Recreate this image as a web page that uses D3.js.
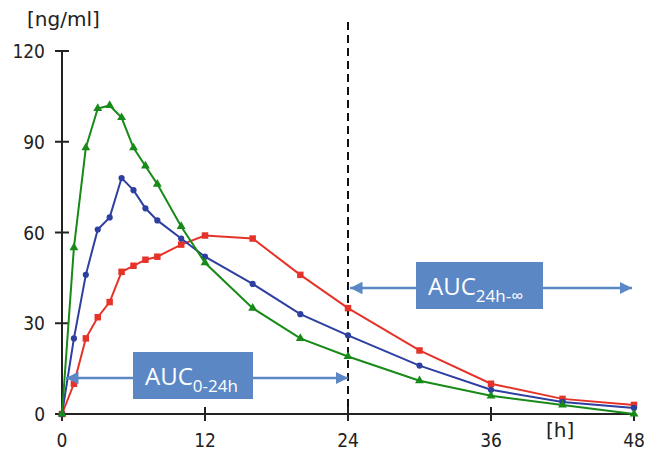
<!DOCTYPE html>
<html>
<head>
<meta charset="utf-8">
<script src="https://cdn.jsdelivr.net/npm/d3@7.9.0/dist/d3.min.js"></script>
<style>
  body { margin: 0; background: #fff; }
  svg { display: block; }
  .tick-label { font-family: "DejaVu Sans Condensed", "DejaVu Sans", Verdana, sans-serif; font-size: 19px; fill: #222; }
  .unit-label { font-family: "DejaVu Sans", Verdana, sans-serif; font-size: 20px; fill: #222; }
  .auc { font-family: "Open Sans", "Noto Sans", sans-serif; fill: #fff; }
</style>
</head>
<body>
<svg width="655" height="453"></svg>
<script>
// time points in hours
const hours = [0, 1, 2, 3, 4, 5, 6, 7, 8, 10, 12, 16, 20, 24, 30, 36, 42, 48];
// concentrations [ng/ml]
const greenSeries = [0, 55, 88, 101, 102, 98, 88, 82, 76, 62, 50, 35, 25, 19, 11, 6, 3, 0];
const blueSeries = [0, 25, 46, 61, 65, 78, 74, 68, 64, 58, 52, 43, 33, 26, 16, 8, 4, 2];
const redSeries = [0, 10, 25, 32, 37, 47, 49, 51, 52, 56, 59, 58, 46, 35, 21, 10, 5, 3];
const xTicks = [0, 12, 24, 36, 48];
const yTicks = [0, 30, 60, 90, 120];

const svg = d3.select('svg');

const x = d3.scaleLinear().domain([0, 48]).range([62, 634]);
const y = d3.scaleLinear().domain([0, 120]).range([414, 51]);

// dashed line at 24h
svg.append('line')
  .attr('x1', x(24)).attr('x2', x(24))
  .attr('y1', 22).attr('y2', y(0))
  .attr('stroke', '#111').attr('stroke-width', 2)
  .attr('stroke-dasharray', '8,5');

// axes (ticks cross the axis line)
svg.append('line')
  .attr('x1', x(0)).attr('x2', x(0)).attr('y1', y(120)).attr('y2', y(0))
  .attr('stroke', '#222').attr('stroke-width', 2);
svg.append('line')
  .attr('x1', x(0)).attr('x2', x(48)).attr('y1', y(0)).attr('y2', y(0))
  .attr('stroke', '#222').attr('stroke-width', 2);

yTicks.forEach(t => {
  svg.append('line')
    .attr('x1', x(0) - 7).attr('x2', x(0) + 7)
    .attr('y1', y(t)).attr('y2', y(t))
    .attr('stroke', '#222').attr('stroke-width', 2);
  svg.append('text').attr('class', 'tick-label')
    .attr('x', 45).attr('y', y(t) + 7)
    .attr('text-anchor', 'end')
    .text(t);
});

xTicks.forEach(t => {
  svg.append('line')
    .attr('x1', x(t)).attr('x2', x(t))
    .attr('y1', y(0) - 7).attr('y2', y(0) + 7)
    .attr('stroke', '#222').attr('stroke-width', 2);
  svg.append('text').attr('class', 'tick-label')
    .attr('x', x(t)).attr('y', 447)
    .attr('text-anchor', 'middle')
    .text(t);
});

svg.append('text').attr('class', 'unit-label')
  .attr('x', 27).attr('y', 26)
  .text('[ng/ml]');
svg.append('text').attr('class', 'unit-label')
  .attr('x', 546).attr('y', 437)
  .text('[h]');

// series
const series = [
  { name: 'red', values: redSeries, color: '#e5332a', shape: d3.symbolSquare, size: 42 },
  { name: 'blue', values: blueSeries, color: '#2d3f9f', shape: d3.symbolCircle, size: 30 },
  { name: 'green', values: greenSeries, color: '#178a17', shape: d3.symbolTriangle, size: 34 }
];

const line = d3.line().x(d => x(d[0])).y(d => y(d[1]));

series.forEach(s => {
  const pts = hours.map((h, i) => [h, s.values[i]]);
  svg.append('path')
    .attr('d', line(pts))
    .attr('fill', 'none')
    .attr('stroke', s.color)
    .attr('stroke-width', 2);
  svg.selectAll(null)
    .data(pts)
    .enter()
    .append('path')
    .attr('d', d3.symbol().type(s.shape).size(s.size))
    .attr('transform', d => `translate(${x(d[0])},${y(d[1])})`)
    .attr('fill', s.color);
});

// AUC annotations
const arrowColor = '#5b87c5';
const defs = svg.append('defs');
defs.append('marker')
  .attr('id', 'head')
  .attr('viewBox', '0 0 10 10')
  .attr('refX', 10).attr('refY', 5)
  .attr('markerWidth', 5).attr('markerHeight', 5)
  .attr('markerUnits', 'strokeWidth')
  .attr('orient', 'auto-start-reverse')
  .append('path')
  .attr('d', 'M0,0 L10,5 L0,10 Z')
  .attr('fill', arrowColor);

function aucArrow(x1, x2, yy) {
  svg.append('line')
    .attr('x1', x1).attr('x2', x2).attr('y1', yy).attr('y2', yy)
    .attr('stroke', arrowColor).attr('stroke-width', 2.5)
    .attr('marker-start', 'url(#head)')
    .attr('marker-end', 'url(#head)');
}

function aucBox(bx, by, bw, bh, sub) {
  svg.append('rect')
    .attr('x', bx).attr('y', by).attr('width', bw).attr('height', bh)
    .attr('fill', '#5b87c5');
  const t = svg.append('text').attr('class', 'auc')
    .attr('x', bx + 12).attr('y', by + 33)
    .style('font-size', '24px');
  t.append('tspan').text('AUC');
  t.append('tspan').attr('dy', 7).style('font-size', '17px').text(sub);
}

aucArrow(x(0) + 4, x(24), 378);
aucBox(133, 352, 120, 47, '0-24h');

aucArrow(x(24) + 2, x(48) - 2, 288);
aucBox(416, 262, 127, 47, '24h-\u221e');
</script>
</body>
</html>
